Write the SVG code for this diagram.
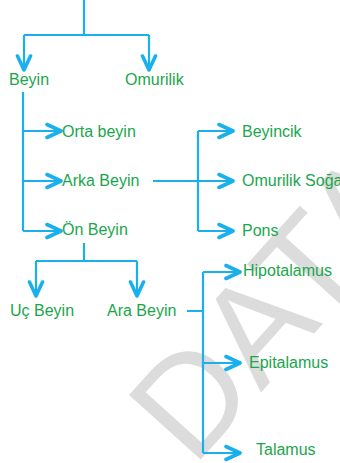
<svg xmlns="http://www.w3.org/2000/svg" width="340" height="463" viewBox="0 0 340 463">
  <defs>
    <style>
      .lbl { font-family: "Liberation Sans", Arial, sans-serif; font-size: 16px; fill: #1aa64c; }
      .ln { fill: none; stroke: #1ab0ec; stroke-width: 2.2; }
      .arr { marker-end: url(#chev); }
      .wm { font-family: "Liberation Sans", Arial, sans-serif; font-size: 140px; fill: #dcdcdc; }
    </style>
    <marker id="chev" markerUnits="userSpaceOnUse" markerWidth="20" markerHeight="18" viewBox="0 0 20 18" refX="16" refY="9" orient="auto">
      <path d="M2,2.5 L16,9 L2,15.5" fill="none" stroke="#1ab0ec" stroke-width="3.6" stroke-linecap="round" stroke-linejoin="round"/>
    </marker>
  </defs>
  <rect width="340" height="463" fill="#ffffff"/>

  <!-- background watermark -->
  <text class="wm" transform="translate(193,468) rotate(-48)">DATA</text>

  <g id="connectors">
    <path class="ln" d="M84,0 V35 M24,35 H149"/>
    <path class="ln arr" d="M24,35 V70"/>
    <path class="ln arr" d="M149,35 V70"/>

    <path class="ln" d="M23,92 V231"/>
    <path class="ln arr" d="M23,131 H61"/>
    <path class="ln arr" d="M23,181 H61"/>
    <path class="ln arr" d="M23,231 H61"/>

    <path class="ln" d="M153,181 H198 M198,131 V231"/>
    <path class="ln arr" d="M198,181 H233"/>
    <path class="ln arr" d="M198,131 H233"/>
    <path class="ln arr" d="M198,231 H233"/>

    <path class="ln" d="M84,243 V261 M36,261 H137"/>
    <path class="ln arr" d="M36,261 V296"/>
    <path class="ln arr" d="M137,261 V296"/>

    <path class="ln" d="M187,311 H203 M203,272 V453"/>
    <path class="ln arr" d="M203,272 H240"/>
    <path class="ln arr" d="M203,363 H240"/>
    <path class="ln arr" d="M203,453 H240"/>
  </g>

  <g id="beyin"><text class="lbl" x="9" y="85">Beyin</text></g>
  <g id="omurilik"><text class="lbl" x="125" y="85">Omurilik</text></g>
  <g id="orta-beyin"><text class="lbl" x="62" y="137">Orta beyin</text></g>
  <g id="arka-beyin"><text class="lbl" x="62" y="186">Arka Beyin</text></g>
  <g id="on-beyin"><text class="lbl" x="62" y="235">Ön Beyin</text></g>
  <g id="beyincik"><text class="lbl" x="242" y="137">Beyincik</text></g>
  <g id="omurilik-soganı"><text class="lbl" x="242" y="186">Omurilik Soğanı</text></g>
  <g id="pons"><text class="lbl" x="242" y="236">Pons</text></g>
  <g id="uc-beyin"><text class="lbl" x="10" y="316">Uç Beyin</text></g>
  <g id="ara-beyin"><text class="lbl" x="107" y="316">Ara Beyin</text></g>
  <g id="hipotalamus"><text class="lbl" x="243" y="276">Hipotalamus</text></g>
  <g id="epitalamus"><text class="lbl" x="249" y="368">Epitalamus</text></g>
  <g id="talamus"><text class="lbl" x="256" y="455">Talamus</text></g>
</svg>
